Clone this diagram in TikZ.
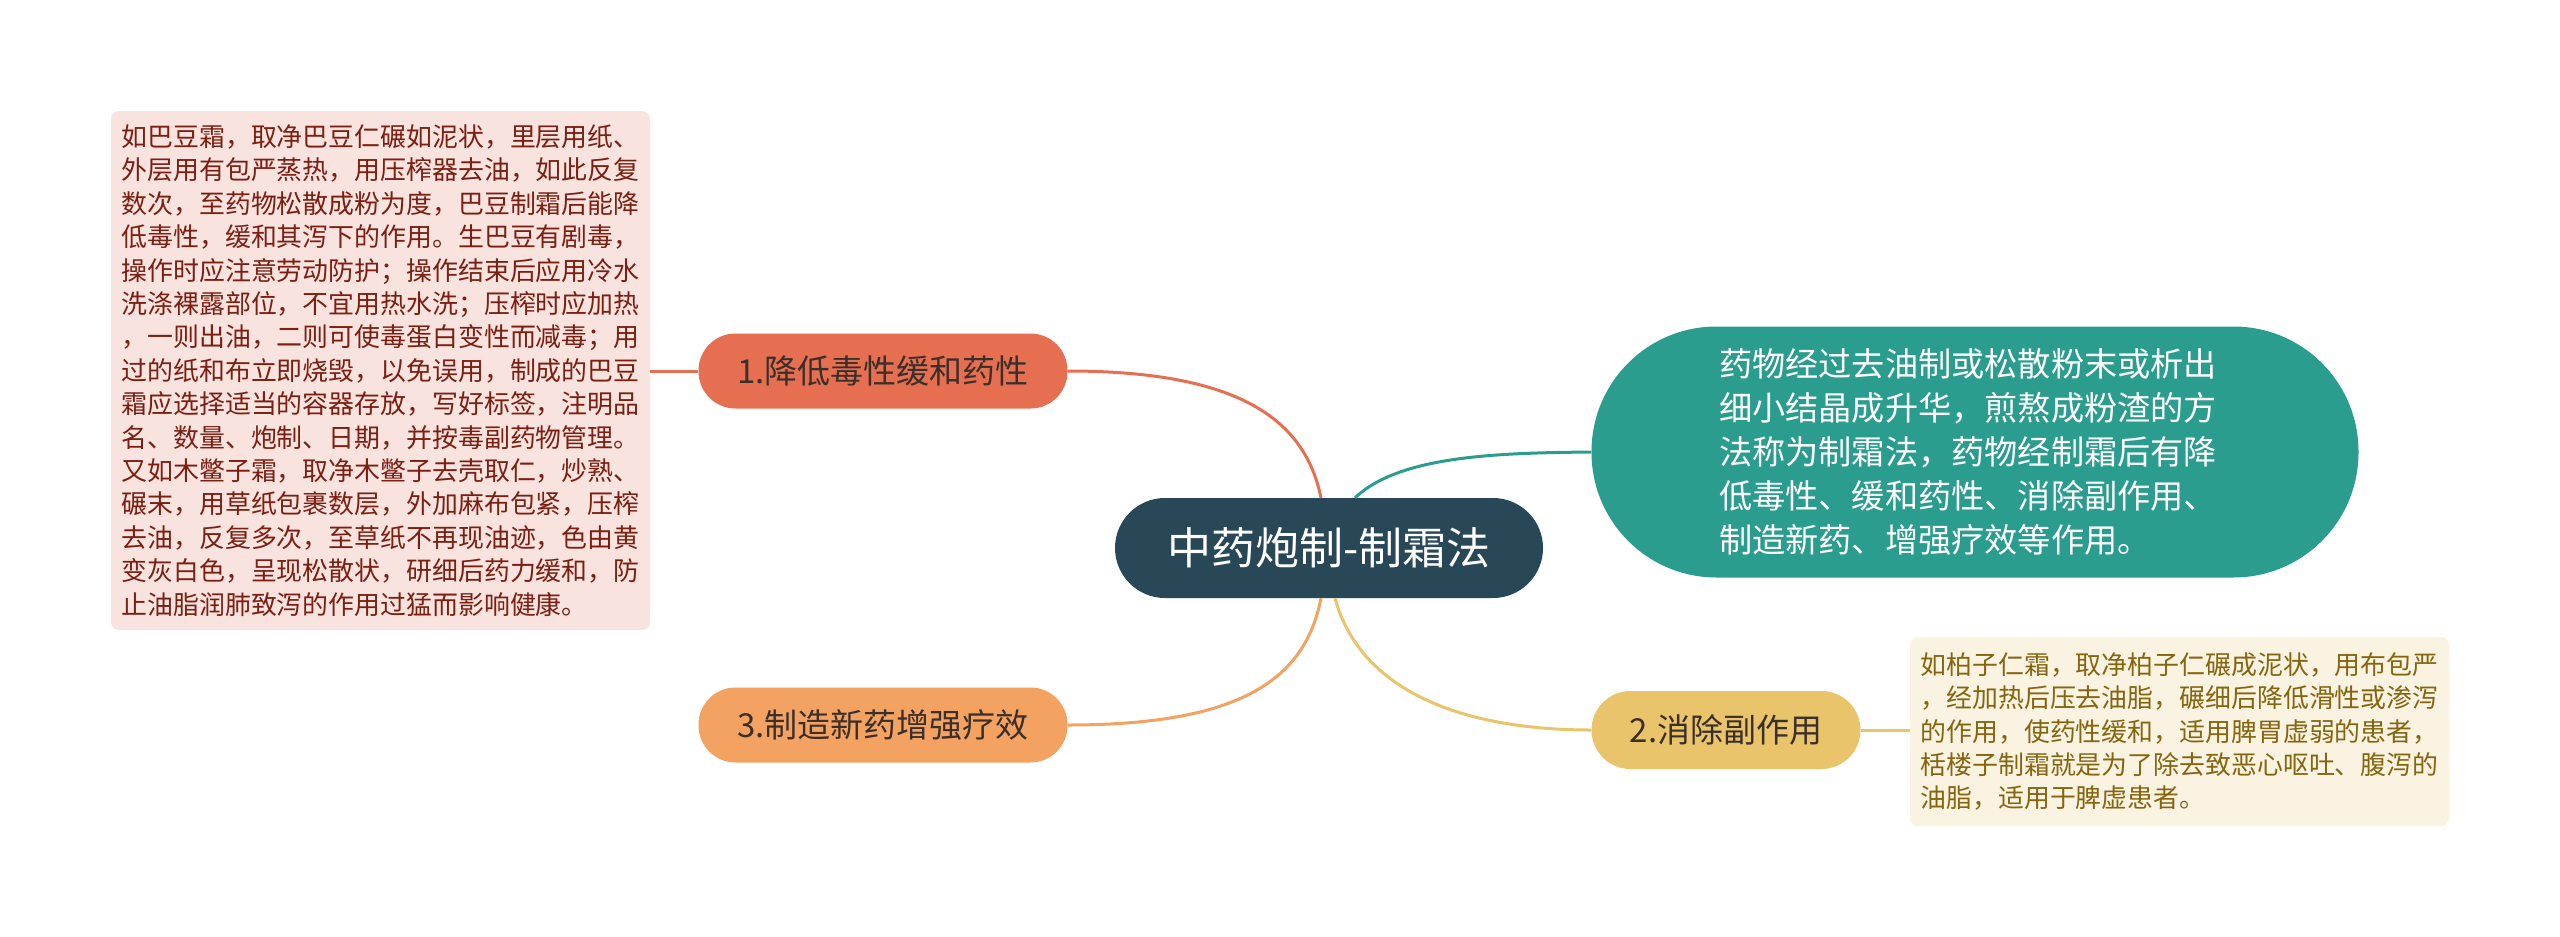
\documentclass[tikz,border=0pt]{standalone}
\usepackage{fontspec}
\setmainfont{Noto Sans CJK SC}
\definecolor{cdark}{HTML}{284757}
\definecolor{cred}{HTML}{E76F51}
\definecolor{cteal}{HTML}{2A9D8F}
\definecolor{cyel}{HTML}{E9C46A}
\definecolor{corg}{HTML}{F4A261}
\definecolor{cpinkbg}{HTML}{F9E3DE}
\definecolor{cpinktx}{HTML}{7B1F12}
\definecolor{ccreambg}{HTML}{FAF3E2}
\definecolor{ccreamtx}{HTML}{86650F}
\definecolor{cntx}{HTML}{3B2F2A}
\begin{document}
\begin{tikzpicture}[x=1pt,y=-1pt,
  conn/.style={line width=3pt},
  pill/.style={rounded corners=37pt, inner sep=0pt, text=cntx,
    font=\fontsize{33}{38}\selectfont},
  note/.style={rounded corners=8pt, inner sep=0pt, align=left,
    font=\fontsize{25.9}{33.4}\selectfont}]
\useasboundingbox (0,0) rectangle (2560,937);
\fill[white] (0,0) rectangle (2560,937);

% central
\node[fill=cdark, rounded corners=50pt, minimum width=428pt, minimum height=100pt,
  text=white, inner sep=0pt, font=\fontsize{44}{50}\selectfont] (c) at (1329,548) {中药炮制-制霜法};

% branches
\node[pill, fill=cred, minimum width=369pt, minimum height=75pt] (n1) at (883,371) {1.降低毒性缓和药性};
\node[pill, fill=corg, minimum width=369pt, minimum height=75pt] (n3) at (883,725) {3.制造新药增强疗效};
\node[pill, fill=cyel, minimum width=269pt, minimum height=78pt, rounded corners=39pt] (n2) at (1726,730) {2.消除副作用};
\node[fill=cteal, rounded corners=125pt, minimum width=767pt, minimum height=251pt,
  inner sep=0pt] (t) at (1975,452) {};
\node[text=white, inner sep=0pt, align=left, font=\fontsize{33.2}{44.2}\selectfont] (tt) at (1968,452)
  {药物经过去油制或松散粉末或析出\\细小结晶成升华，煎熬成粉渣的方\\法称为制霜法，药物经制霜后有降\\低毒性、缓和药性、消除副作用、\\制造新药、增强疗效等作用。};

% notes
\node[note, fill=cpinkbg, text=cpinktx, minimum width=539pt, minimum height=519pt] (l) at (380.5,370.5)
  {如巴豆霜，取净巴豆仁碾如泥状，里层用纸、\\外层用有包严蒸热，用压榨器去油，如此反复\\数次，至药物松散成粉为度，巴豆制霜后能降\\低毒性，缓和其泻下的作用。生巴豆有剧毒，\\操作时应注意劳动防护；操作结束后应用冷水\\洗涤裸露部位，不宜用热水洗；压榨时应加热\\，一则出油，二则可使毒蛋白变性而减毒；用\\过的纸和布立即烧毁，以免误用，制成的巴豆\\霜应选择适当的容器存放，写好标签，注明品\\名、数量、炮制、日期，并按毒副药物管理。\\又如木鳖子霜，取净木鳖子去壳取仁，炒熟、\\碾末，用草纸包裹数层，外加麻布包紧，压榨\\去油，反复多次，至草纸不再现油迹，色由黄\\变灰白色，呈现松散状，研细后药力缓和，防\\止油脂润肺致泻的作用过猛而影响健康。};
\node[note, fill=ccreambg, text=ccreamtx, minimum width=539pt, minimum height=189pt] (r) at (2179.5,731.5)
  {如柏子仁霜，取净柏子仁碾成泥状，用布包严\\，经加热后压去油脂，碾细后降低滑性或渗泻\\的作用，使药性缓和，适用脾胃虚弱的患者，\\栝楼子制霜就是为了除去致恶心呕吐、腹泻的\\油脂，适用于脾虚患者。};

% connectors
\draw[conn, cred] ([xshift=-8pt]c.north) .. controls (1305,420) and (1240,371) .. (n1.east);
\draw[conn, cteal] ([xshift=26pt]c.north) .. controls (1400,455) and (1500,453) .. (t.west);
\draw[conn, corg] ([xshift=-8pt]c.south) .. controls (1305,680) and (1240,725) .. (n3.east);
\draw[conn, cyel] ([xshift=6pt]c.south) .. controls (1360,690) and (1460,730) .. (n2.west);
\draw[conn, cred] (l.east |- n1.west) -- (n1.west);
\draw[conn, cyel] (n2.east) -- (r.west |- n2.east);
\end{tikzpicture}
\end{document}
